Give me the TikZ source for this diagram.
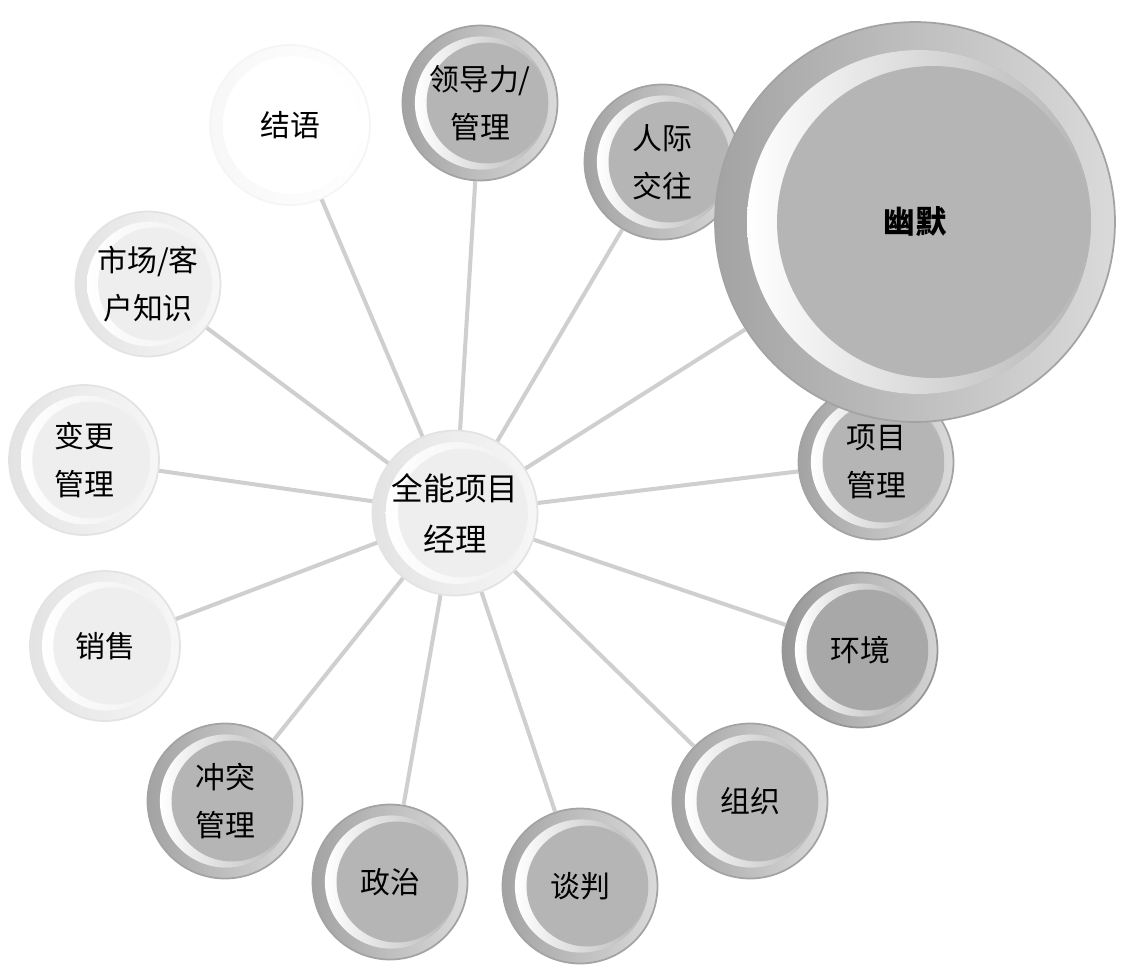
\documentclass[tikz,border=0pt]{standalone}
\usepackage{fontspec}
\setmainfont{Noto Sans CJK SC}
\usetikzlibrary{calc}

\tikzset{
  ball/.style 2 args={circle, inner sep=0pt, align=center, fill=#1, draw=#2, line width=1pt,
    font=\fontsize{17}{27}\selectfont,
    path picture={
      \fill[left color=#2, right color=white!50!#1] (path picture bounding box.south west)
        rectangle (path picture bounding box.north east);
      \fill[left color=white, right color=#1] let \p1=(path picture bounding box.center),
        \p2=(path picture bounding box.east), \n1={\x2-\x1} in ($(\p1)+(0.02*\n1,0pt)$) circle ({0.86*\n1});
      \fill[#1] let \p1=(path picture bounding box.center),
        \p2=(path picture bounding box.east), \n1={\x2-\x1} in ($(\p1)+(0.09*\n1,0pt)$) circle ({0.78*\n1});
    }},
  darkball/.style={ball={gray!58}{gray!72}, minimum size=3.1cm},
  deepball/.style={ball={gray!68}{gray!82}, minimum size=3.1cm},
  lightball/.style={ball={gray!13}{gray!22}, minimum size=3.0cm},
  paleball/.style={ball={white}{gray!6}, minimum size=3.2cm, draw=gray!8},
  spoke/.style={gray!38, line width=2.3pt},
}

\begin{document}
\begin{tikzpicture}[x=0.02cm, y=-0.02cm]
  \useasboundingbox (0,0) rectangle (1125,975);

  % hub
  \node[lightball, minimum size=3.3cm, font=\fontsize{18}{29}\selectfont] (hub) at (455,513) {全能项目\\经理};

  % satellites
  \node[paleball] (jieyu) at (290,125) {结语};
  \node[darkball] (lingdao) at (480,103) {领导力/\\管理};
  \node[darkball] (renji) at (662,162) {人际\\交往};
  \node[darkball] (xiangmu) at (876,462) {项目\\管理};
  \node[deepball] (huanjing) at (860,650) {环境};
  \node[darkball] (zuzhi) at (750,801) {组织};
  \node[darkball] (tanpan) at (580,886) {谈判};
  \node[darkball] (zhengzhi) at (390,882) {政治};
  \node[darkball] (chongtu) at (225,801) {冲突\\管理};
  \node[lightball] (xiaoshou) at (105,646) {销售};
  \node[lightball] (biangeng) at (84,460) {变更\\管理};
  \node[lightball, minimum size=2.9cm] (shichang) at (148,284) {市场/客\\户知识};
  \node[darkball, minimum size=8cm, font=\fontsize{18}{27}\selectfont\bfseries] (youmo) at (915,222) {幽默};

  % connectors
  \foreach \n in {jieyu, lingdao, renji, youmo, xiangmu, huanjing, zuzhi, tanpan, zhengzhi, chongtu, xiaoshou, biangeng, shichang}
    \draw[spoke] (hub) -- (\n);
\end{tikzpicture}
\end{document}
